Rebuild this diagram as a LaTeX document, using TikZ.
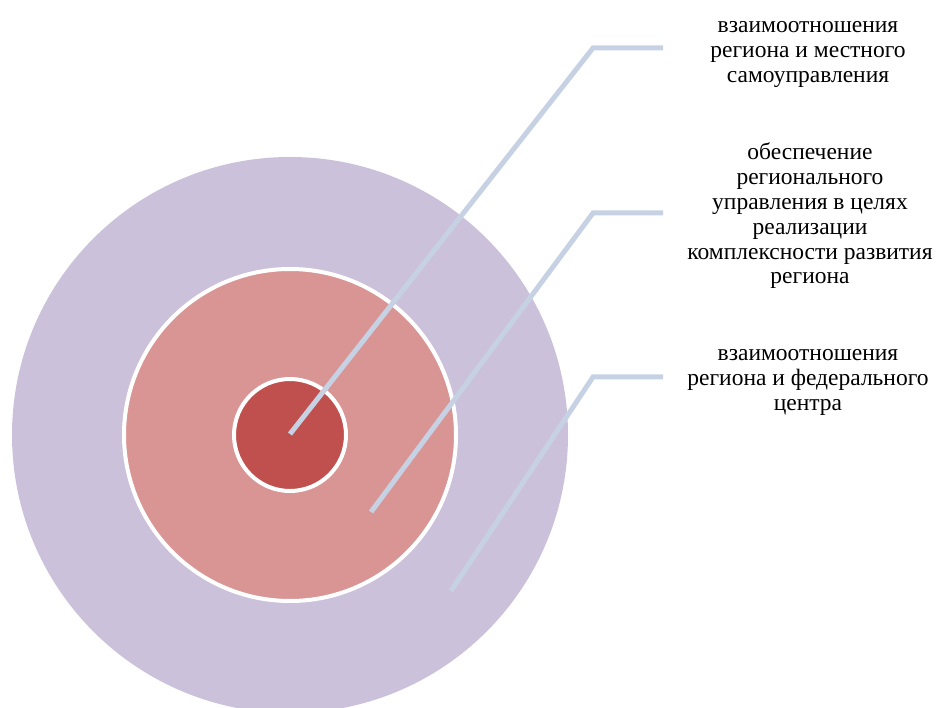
\documentclass[tikz,border=0pt]{standalone}
\usepackage{fontspec}
\setmainfont{Liberation Serif}
\definecolor{outerfill}{RGB}{204,193,218}
\definecolor{midfill}{RGB}{217,149,148}
\definecolor{corefill}{RGB}{192,80,77}
\definecolor{leadercol}{RGB}{198,210,228}
\begin{document}
\begin{tikzpicture}[x=1pt,y=-1pt,
  ring/.style = {circle, inner sep=0pt, minimum size=#1},
  leader/.style = {draw=leadercol, line width=5pt},
  caption/.style = {align=center, font=\fontsize{23.5}{24.8}\selectfont, inner sep=0pt}
]
    \useasboundingbox (0,0) rectangle (937,708);
    % target rings
    \node[ring=556pt, fill=outerfill] (outer) at (290,435) {};
    \node[ring=332pt, fill=midfill, draw=white, line width=4pt] (middle) at (290,435) {};
    \node[ring=112pt, fill=corefill, draw=white, line width=4pt] (core) at (290,435) {};
    % leader points
    \coordinate (p1) at (290,434);
    \coordinate (k1) at (593,48);
    \coordinate (e1) at (663,48);
    \coordinate (p2) at (371,512);
    \coordinate (k2) at (593,213);
    \coordinate (e2) at (663,213);
    \coordinate (p3) at (451,591);
    \coordinate (k3) at (593,377);
    \coordinate (e3) at (663,377);
    \draw[leader] (p1) -- (k1) -- (e1);
    \draw[leader] (p2) -- (k2) -- (e2);
    \draw[leader] (p3) -- (k3) -- (e3);
    % captions
    \node[caption] (t1) at (808,54.5) {взаимоотношения\\региона и местного\\самоуправления};
    \node[caption] (t2) at (810,216) {обеспечение\\регионального\\управления в целях\\реализации\\комплексности развития\\региона};
    \node[caption] (t3) at (808,382.5) {взаимоотношения\\региона и федерального\\центра};
\end{tikzpicture}
\end{document}
